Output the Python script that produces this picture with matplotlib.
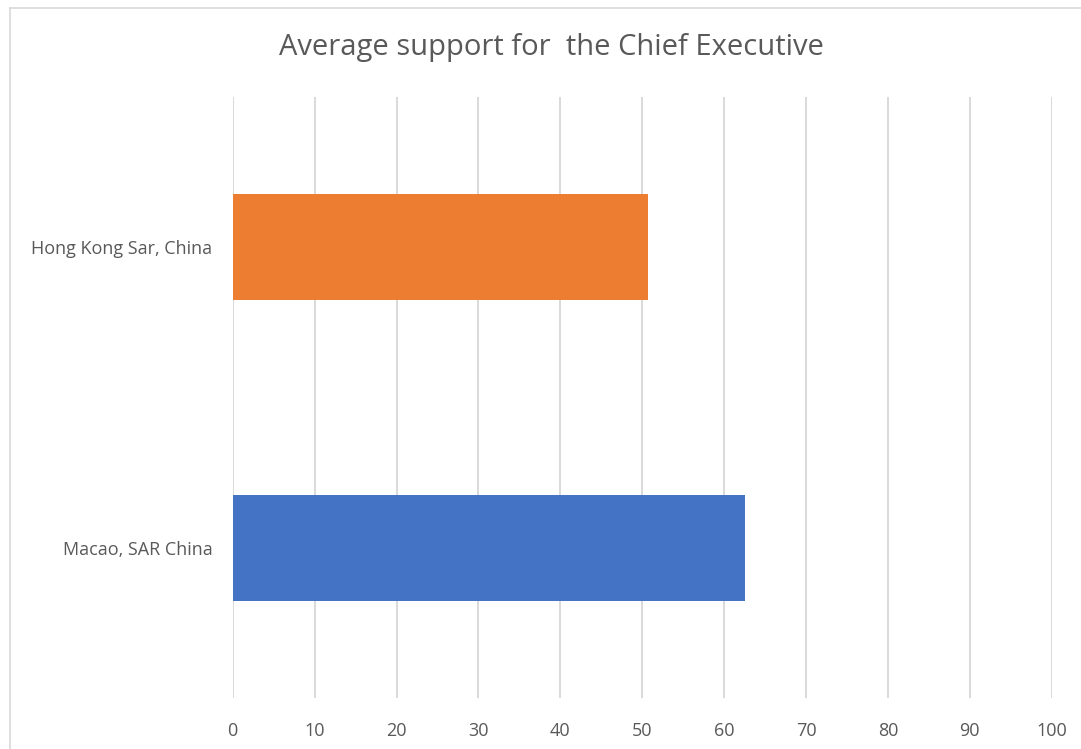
import matplotlib
matplotlib.use("Agg")
import matplotlib.pyplot as plt
from matplotlib.lines import Line2D

categories = ["Macao, SAR China", "Hong Kong Sar, China"]
values = [62.55, 50.67]
bar_colors = ["#4472C4", "#ED7D31"]
x_ticks = [0, 10, 20, 30, 40, 50, 60, 70, 80, 90, 100]
title = "Average support for  the Chief Executive"

plt.rcParams['font.family'] = ['Open Sans', 'DejaVu Sans']

fig = plt.figure(figsize=(10.81, 7.49), dpi=100)
ax = fig.add_axes([232.7/1081, 1-698/749, (1051.7-232.7)/1081, (698-97)/749])

ypos = list(range(len(categories)))
ax.barh(ypos, values, height=0.354, color=bar_colors, zorder=3)
ax.set_xlim(0, 100)
ax.set_ylim(-0.5, len(categories) - 0.5)
ax.set_xticks(x_ticks)
ax.set_xticklabels([str(t) for t in x_ticks])
ax.set_yticks(ypos)
ax.set_yticklabels(categories)
ax.grid(axis='x', color='#D9D9D9', linewidth=1.4, zorder=0)
for s in ax.spines.values():
    s.set_visible(False)
ax.tick_params(axis='both', length=0, colors='#595959', labelsize=13)
ax.tick_params(axis='x', pad=17)
ax.tick_params(axis='y', pad=14.5)

fig.text(551/1081, 1-47/749, title, ha='center', va='center', fontsize=21, color='#595959')

# chart outer border (top and left visible)
fig.add_artist(Line2D([10/1081, 1.0], [1-8/749, 1-8/749], color='#D9D9D9', linewidth=1.2, transform=fig.transFigure))
fig.add_artist(Line2D([10/1081, 10/1081], [0, 1-8/749], color='#D9D9D9', linewidth=1.2, transform=fig.transFigure))

fig.savefig("out.png", dpi=100)
